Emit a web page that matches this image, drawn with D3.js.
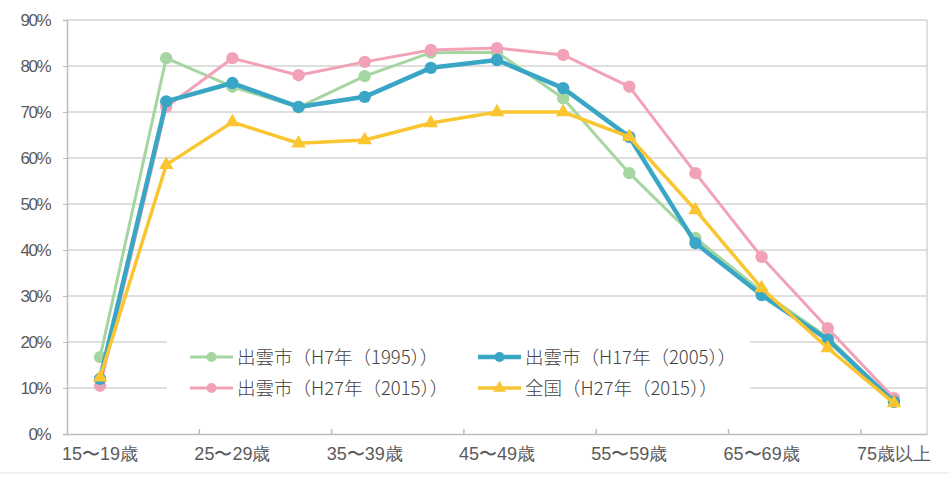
<!DOCTYPE html>
<html><head><meta charset="utf-8">
<script src="https://cdn.jsdelivr.net/npm/d3@7/dist/d3.min.js"></script>
<style>body{margin:0;background:#fff}svg{display:block;font-family:"Noto Sans CJK JP","Noto Sans",sans-serif}</style>
</head><body><svg id="c" width="949" height="480"></svg>
<script>
const categories = ["15〜19歳","20〜24歳","25〜29歳","30〜34歳","35〜39歳","40〜44歳","45〜49歳","50〜54歳","55〜59歳","60〜64歳","65〜69歳","70〜74歳","75歳以上"];
const seriesNames = ["出雲市（H7年（1995））","出雲市（H17年（2005））","出雲市（H27年（2015））","全国（H27年（2015））"];
const izumo1995 = [16.7,81.7,75.5,71.0,77.8,82.9,83.0,73.0,56.7,42.6,31.0,21.0,7.0];
const izumo2005 = [12.0,72.3,76.3,71.1,73.3,79.6,81.3,75.2,64.6,41.5,30.2,20.5,7.0];
const izumo2015 = [10.5,71.1,81.7,78.0,80.9,83.5,83.9,82.4,75.5,56.7,38.5,23.0,7.8];
const national2015 = [12.3,58.5,67.8,63.2,63.9,67.6,70.0,70.0,64.6,48.7,31.7,18.7,6.7];
const yTicks = [0,10,20,30,40,50,60,70,80,90];

const colors = ["#a5d6a1","#3aa6c6","#f2a2b6","#f9c531"];
const widths = [3,4.5,3,3.5];
const shapes = [d3.symbolCircle,d3.symbolCircle,d3.symbolCircle,d3.symbolTriangle];
const allSeries = [izumo1995,izumo2005,izumo2015,national2015];

const W=949,H=480,m={l:67,r:22,t:20,b:46};
const svg=d3.select("#c");
const x=d3.scaleBand().domain(categories).range([m.l,W-m.r]);
const y=d3.scaleLinear().domain([0,90]).range([H-m.b,m.t]);
const cx=c=>x(c)+x.bandwidth()/2;

svg.append("line").attr("x1",0).attr("x2",W).attr("y1",473).attr("y2",473).attr("stroke","#eeeeee").attr("stroke-width",1.5);

svg.append("g").selectAll("line").data(yTicks.filter(d=>d>0)).join("line")
 .attr("x1",m.l).attr("x2",W-m.r).attr("y1",d=>y(d)).attr("y2",d=>y(d))
 .attr("stroke","#d4d4d4").attr("stroke-width",1.5);
svg.append("line").attr("x1",W-m.r).attr("x2",W-m.r).attr("y1",y(90)).attr("y2",y(0)).attr("stroke","#d4d4d4").attr("stroke-width",1.5);

const ya=svg.append("g").attr("transform",`translate(${m.l},0)`)
 .call(d3.axisLeft(y).tickValues(yTicks).tickFormat(d=>d+"%").tickSize(4).tickPadding(13));
ya.select(".domain").attr("stroke","#bdbdbd").attr("stroke-width",1.5);
ya.selectAll(".tick line").attr("stroke","#bdbdbd");
ya.selectAll("text").attr("fill","#5a5a5a").attr("font-size",17).attr("font-family","'Liberation Sans Narrow','Liberation Sans',sans-serif").attr("letter-spacing","-1.5");

const xa=svg.append("g").attr("transform",`translate(0,${y(0)})`)
 .call(d3.axisBottom(x).tickSize(0).tickPadding(13).tickFormat((d,i)=>i%2===0?d:""));
xa.select(".domain").attr("stroke","#bdbdbd").attr("stroke-width",1.5);
xa.selectAll("text").attr("fill","#5a5a5a").attr("font-size",18).attr("font-weight",300);
const bticks=d3.range(2,categories.length,2).map(i=>x(categories[i]));
xa.append("g").selectAll("line").data(bticks).join("line")
 .attr("x1",d=>d).attr("x2",d=>d).attr("y1",0).attr("y2",-5).attr("stroke","#bdbdbd").attr("stroke-width",1.5);

const line=d3.line().x((d,i)=>cx(categories[i])).y(d=>y(d));
const order=[0,2,1,3];
order.forEach(s=>{
  svg.append("path").datum(allSeries[s]).attr("d",line).attr("fill","none")
   .attr("stroke",colors[s]).attr("stroke-width",widths[s]).attr("stroke-linejoin","round");
  svg.append("g").selectAll("path").data(allSeries[s]).join("path")
   .attr("transform",(d,i)=>`translate(${cx(categories[i])},${y(d)})`)
   .attr("d",d3.symbol().type(shapes[s]).size(s===3?90:120)).attr("fill",colors[s]);
});

const lg=svg.append("g");
lg.append("rect").attr("x",167).attr("y",305).attr("width",583).attr("height",110).attr("fill","#fff");
const pos=[[190,357],[478,357],[190,388],[478,388]];
[0,1,2,3].forEach((s,k)=>{
  const [lx,ly]=pos[k];
  const g=lg.append("g").attr("transform",`translate(${lx},${ly})`);
  g.append("line").attr("x1",0).attr("x2",43).attr("stroke",colors[s]).attr("stroke-width",widths[s]);
  g.append("path").attr("transform","translate(21.5,0)").attr("d",d3.symbol().type(shapes[s]).size(s===3?70:80)).attr("fill",colors[s]);
  g.append("text").attr("x",47).attr("y",0).attr("dy","0.36em").attr("font-size",18.5).attr("font-weight",300).attr("fill","#444").text(seriesNames[s]);
});
</script></body></html>
